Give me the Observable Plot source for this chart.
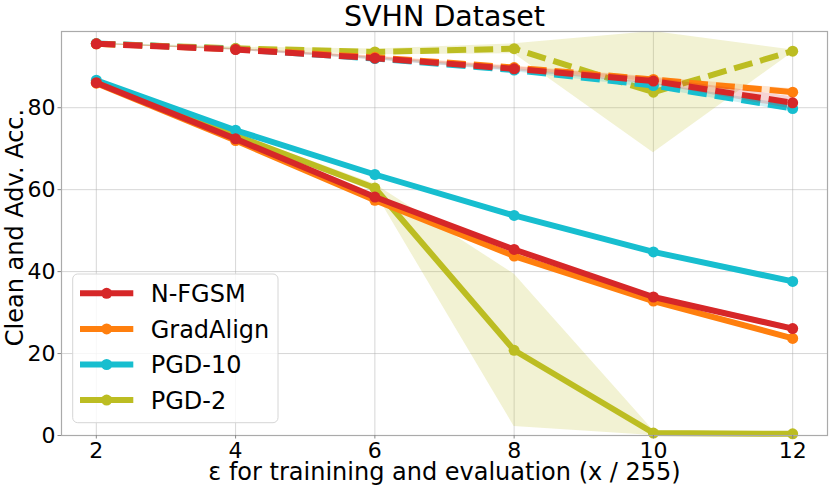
<!DOCTYPE html>
<html>
<head>
<meta charset="utf-8">
<script src="https://cdn.jsdelivr.net/npm/d3@7"></script>
<script src="https://cdn.jsdelivr.net/npm/@observablehq/plot@0.6"></script>
<style>
  html, body { margin: 0; padding: 0; background: #fff; }
  svg { display: block; }
</style>
</head>
<body>
<div id="chart"></div>
<script>
// ---- data ----
const eps = [2, 4, 6, 8, 10, 12];
const xTicks = [2, 4, 6, 8, 10, 12];
const yTicks = [0, 20, 40, 60, 80];

const methods = ["N-FGSM", "GradAlign", "PGD-10", "PGD-2"];
const colors = ["#d62728", "#ff7f0e", "#17becf", "#bcbd22"];

// clean accuracy (dashed)
const nfgsmClean     = [95.6, 94.2, 92.1, 89.5, 86.5, 81.2];
const gradalignClean = [95.6, 94.3, 92.3, 89.8, 86.9, 83.8];
const pgd10Clean     = [95.7, 94.3, 92.0, 89.2, 85.4, 79.8];
const pgd2Clean      = [95.6, 94.5, 93.6, 94.4, 83.8, 93.8];
// clean std
const nfgsmCleanStd     = [0.1, 0.2, 0.4, 0.5, 0.8, 1.5];
const gradalignCleanStd = [0.1, 0.2, 0.3, 0.4, 0.6, 0.8];
const pgd10CleanStd     = [0.1, 0.2, 0.3, 0.4, 0.6, 0.8];
const pgd2CleanStd      = [0.2, 0.3, 0.7, 1.2, 14.8, 0.3];

// adversarial accuracy (solid)
const nfgsmAdv     = [86.1, 72.4, 58.2, 45.4, 33.8, 26.1];
const gradalignAdv = [86.0, 72.0, 57.4, 43.8, 32.8, 23.7];
const pgd10Adv     = [86.7, 74.5, 63.7, 53.7, 44.8, 37.6];
const pgd2Adv      = [86.3, 73.2, 60.4, 20.8, 0.6, 0.4];
// adversarial std
const nfgsmAdvStd     = [0.2, 0.3, 0.4, 0.5, 0.5, 0.6];
const gradalignAdvStd = [0.2, 0.3, 0.4, 0.5, 0.5, 0.6];
const pgd10AdvStd     = [0.2, 0.3, 0.4, 0.5, 0.5, 0.6];
const pgd2AdvStd      = [0.3, 0.5, 1.0, 18.6, 0.6, 0.3];

const titleText = "SVHN Dataset";
const xLabel = "ε for trainining and evaluation (x / 255)";
const yLabel = "Clean and Adv. Acc.";

// ---- build tidy rows ----
const series = {
  "N-FGSM":   {clean: nfgsmClean, cleanStd: nfgsmCleanStd, adv: nfgsmAdv, advStd: nfgsmAdvStd},
  "GradAlign":{clean: gradalignClean, cleanStd: gradalignCleanStd, adv: gradalignAdv, advStd: gradalignAdvStd},
  "PGD-10":   {clean: pgd10Clean, cleanStd: pgd10CleanStd, adv: pgd10Adv, advStd: pgd10AdvStd},
  "PGD-2":    {clean: pgd2Clean, cleanStd: pgd2CleanStd, adv: pgd2Adv, advStd: pgd2AdvStd}
};
function rows(m, kind) {
  const s = series[m];
  return eps.map((e, i) => ({method: m, kind, eps: e,
    value: s[kind][i], std: s[kind + "Std"][i]}));
}

const LW = 6;
const marks = [
  Plot.gridX(xTicks, {stroke: "#b0b0b0", strokeOpacity: 0.5, strokeWidth: 1}),
  Plot.gridY(yTicks, {stroke: "#b0b0b0", strokeOpacity: 0.5, strokeWidth: 1})
];
// draw in reverse legend order so N-FGSM is on top
[...methods].reverse().forEach(m => {
  const c = colors[methods.indexOf(m)];
  for (const kind of ["adv", "clean"]) {
    const r = rows(m, kind);
    marks.push(Plot.areaY(r, {x: "eps", y1: d => d.value - d.std, y2: d => d.value + d.std,
      fill: c, fillOpacity: 0.2, clip: true}));
    marks.push(Plot.line(r, {x: "eps", y: "value", stroke: c, strokeWidth: LW,
      strokeLinejoin: "round", strokeLinecap: kind === "clean" ? "butt" : "round",
      strokeDasharray: kind === "clean" ? "19,8" : null}));
    marks.push(Plot.dot(r, {x: "eps", y: "value", r: 5.5, fill: c, stroke: "none"}));
  }
});
marks.push(Plot.frame({stroke: "#aaaaaa", strokeWidth: 1.2}));
marks.push(Plot.axisX({ticks: xTicks, tickSize: 3.5, tickPadding: 3, fontSize: 22,
  stroke: "#888", fill: "#000", label: null, tickFormat: d => String(d)}));
marks.push(Plot.axisY({ticks: yTicks, tickSize: 3.5, tickPadding: 2.5, fontSize: 22,
  stroke: "#888", fill: "#000", label: null, tickFormat: d => String(d)}));
marks.push(Plot.text([titleText], {text: d => d, frameAnchor: "top", lineAnchor: "bottom",
  textAnchor: "middle", dy: -6, fontSize: 28.5, fill: "#000"}));
marks.push(Plot.text([xLabel], {text: d => d, frameAnchor: "bottom", lineAnchor: "bottom",
  textAnchor: "middle", dy: 44, fontSize: 24, fill: "#000"}));
marks.push(Plot.text([yLabel], {text: d => d, frameAnchor: "left", lineAnchor: "bottom",
  textAnchor: "middle", rotate: -90, dx: -39, dy: -6, fontSize: 24, fill: "#000"}));

const svg = Plot.plot({
  width: 830,
  height: 489,
  marginLeft: 61,
  marginRight: 3,
  marginTop: 31,
  marginBottom: 54,
  style: {fontFamily: "DejaVu Sans", background: "#fff", overflow: "visible"},
  x: {domain: [1.5, 12.5]},
  y: {domain: [0, 98.6]},
  marks
});

// ---- legend (inside plot, lower left) ----
const L = {x: 72.7, y: 274, w: 205.3, h: 148.7, row0: 293.3, rowStep: 35.6,
           lx0: 80, lx1: 133.3, tx: 150.7};
const g = d3.select(svg).append("g").attr("font-family", "DejaVu Sans")
  .attr("text-anchor", "start");
g.append("rect").attr("x", L.x).attr("y", L.y).attr("width", L.w).attr("height", L.h)
  .attr("rx", 5).attr("fill", "#fff").attr("fill-opacity", 0.8)
  .attr("stroke", "#d6d6d6").attr("stroke-width", 1);
methods.forEach((m, i) => {
  const yy = L.row0 + i * L.rowStep;
  g.append("line").attr("x1", L.lx0).attr("x2", L.lx1).attr("y1", yy).attr("y2", yy)
    .attr("stroke", colors[i]).attr("stroke-width", LW);
  g.append("circle").attr("cx", (L.lx0 + L.lx1) / 2).attr("cy", yy).attr("r", 5.5)
    .attr("fill", colors[i]);
  g.append("text").attr("x", L.tx).attr("y", yy).attr("dy", "0.36em")
    .attr("text-anchor", "start")
    .attr("font-size", 24).attr("fill", "#000").text(m);
});

document.getElementById("chart").appendChild(svg);
</script>
</body>
</html>
